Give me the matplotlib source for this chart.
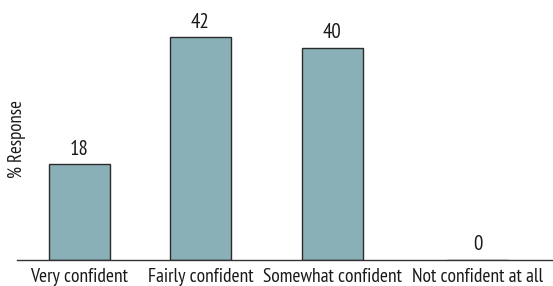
import matplotlib
matplotlib.use("Agg")
import matplotlib.pyplot as plt
import numpy as np

categories = ["Very confident", "Fairly confident", "Somewhat confident", "Not confident at all"]
values = [18, 42, 40, 0]

# layout: category slot positions along the x axis (as in the reference's spacing)
slots = [0.0, 0.91, 1.905, 3.0]

plt.rcParams['font.family'] = ['PT Sans Narrow', 'DejaVu Sans']

W, H = 553, 286
fig = plt.figure(figsize=(W / 100, H / 100), dpi=100)
ax = fig.add_axes([17 / W, (H - 260) / H, (553 - 17) / W, 260 / H])

ax.bar(slots, values, width=0.46, color="#8AB0B7", edgecolor="#2b2b2b", linewidth=1.0, zorder=2)
for xi, v in zip(slots, values):
    ax.annotate(str(v), (xi, v), xytext=(0, 4), textcoords="offset points",
                ha="center", va="bottom", fontsize=15, color="#1a1a1a")

ax.set_xlim(-0.47, 3.565)
ax.set_ylim(0, 49)
ax.set_xticks(slots)
ax.set_xticklabels(categories, fontsize=14, color="#1a1a1a")
ax.tick_params(axis="x", length=0, pad=6)
ax.set_yticks([])
for s in ["top", "right", "left"]:
    ax.spines[s].set_visible(False)
ax.spines["bottom"].set_color("#333333")
ax.spines["bottom"].set_linewidth(1.0)

fig.text(17 / W, 1 - 139 / H, "% Response", rotation=90, ha="center", va="center",
         fontsize=13.5, color="#1a1a1a")

fig.savefig("out.png", dpi=100)
